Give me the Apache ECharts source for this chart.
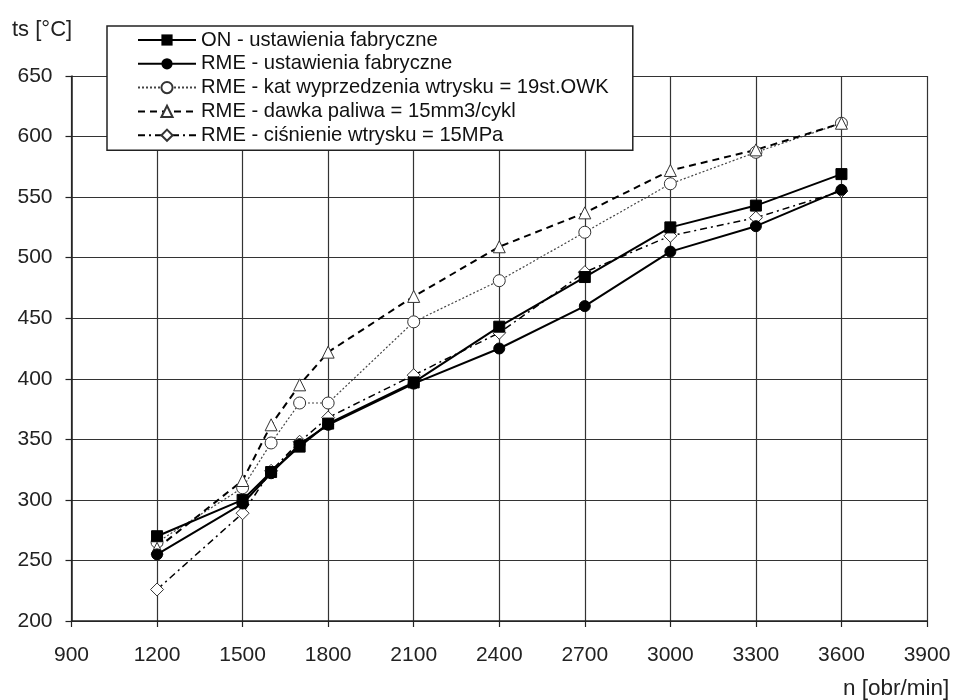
<!DOCTYPE html>
<html>
<head>
<meta charset="utf-8">
<script src="https://cdn.jsdelivr.net/npm/echarts@6/dist/echarts.min.js"></script>
<style>
html,body{margin:0;padding:0;background:#fff;}
#chart{width:954px;height:700px;}
</style>
</head>
<body>
<div id="chart"></div>
<script>
const rpm = [1200, 1500, 1600, 1700, 1800, 2100, 2400, 2700, 3000, 3300, 3600];
const onFactory = [270, 300, 323, 344, 363, 397, 443, 484, 525, 543, 569];
const rmeFactory = [255, 297, 322, 346, 362, 396, 425, 460, 505, 526, 556];
const rmeTiming = [265, 310, 347, 380, 380, 447, 481, 521, 561, 587, 611];
const rmeDose = [260, 316, 362, 395, 422, 468, 509, 537, 572, 589, 611];
const rmePressure = [226, 289, 324, 348, 368, 403, 438, 488, 518, 533, 555];
const seriesNames = [
  'ON - ustawienia fabryczne',
  'RME - ustawienia fabryczne',
  'RME - kat wyprzedzenia wtrysku = 19st.OWK',
  'RME - dawka paliwa = 15mm3/cykl',
  'RME - ciśnienie wtrysku = 15MPa'
];
const yTitle = 'ts [°C]';
const xTitle = 'n [obr/min]';

const pair = arr => rpm.map((x, i) => [x, arr[i]]);
const FONT = 'Liberation Sans, Arial, sans-serif';

const chart = echarts.init(document.getElementById('chart'), null, {renderer: 'canvas'});
chart.setOption({
  animation: false,
  backgroundColor: '#fff',
  grid: {left: 71.5, right: 27, top: 76, bottom: 79, containLabel: false},
  xAxis: {
    type: 'value', min: 900, max: 3900, interval: 300,
    axisLine: {show: true, onZero: false, lineStyle: {color: '#222', width: 1.5}},
    axisTick: {show: true, inside: false, length: 6, lineStyle: {color: '#222', width: 1.2}},
    axisLabel: {color: '#222', fontSize: 21, fontFamily: FONT, margin: 24, formatter: v => String(v)},
    splitLine: {show: true, lineStyle: {color: '#333', width: 1.2}}
  },
  yAxis: {
    type: 'value', min: 200, max: 650, interval: 50,
    axisLine: {show: true, lineStyle: {color: '#222', width: 1.5}},
    axisTick: {show: true, inside: false, length: 6, lineStyle: {color: '#222', width: 1.2}},
    axisLabel: {color: '#222', fontSize: 21, fontFamily: FONT, margin: 19},
    splitLine: {show: true, lineStyle: {color: '#333', width: 1.2}}
  },
  legend: {
    orient: 'vertical', left: 107, top: 26,
    backgroundColor: '#fff', borderColor: '#222', borderWidth: 1.5,
    padding: [4, 24, 5, 30],
    itemWidth: 58, itemHeight: 14, itemGap: 3.8,
    textStyle: {color: '#111', fontSize: 20.2, fontFamily: FONT, lineHeight: 20},
    data: seriesNames
  },
  graphic: [
    {type: 'text', left: 12, top: 19, style: {text: yTitle, fontSize: 22, fontFamily: FONT, fill: '#222'}},
    {type: 'text', left: 843, top: 677, style: {text: xTitle, fontSize: 22.5, fontFamily: FONT, fill: '#222'}}
  ],
  series: [
    {name: seriesNames[0], type: 'line', data: pair(onFactory), z: 5,
     symbol: 'rect', symbolSize: 11,
     lineStyle: {color: '#000', width: 2, type: 'solid'},
     itemStyle: {color: '#000', borderColor: '#000'}},
    {name: seriesNames[1], type: 'line', data: pair(rmeFactory), z: 4,
     symbol: 'circle', symbolSize: 11,
     lineStyle: {color: '#000', width: 2, type: 'solid'},
     itemStyle: {color: '#000', borderColor: '#000'}},
    {name: seriesNames[2], type: 'line', data: pair(rmeTiming), z: 3,
     symbol: 'circle', symbolSize: 12,
     lineStyle: {color: '#444', width: 1.2, type: [2, 2]},
     itemStyle: {color: '#fff', borderColor: '#333', borderWidth: 1}},
    {name: seriesNames[3], type: 'line', data: pair(rmeDose), z: 3,
     symbol: 'triangle', symbolSize: 12,
     lineStyle: {color: '#000', width: 2, type: [7, 5]},
     itemStyle: {color: '#fff', borderColor: '#333', borderWidth: 1}},
    {name: seriesNames[4], type: 'line', data: pair(rmePressure), z: 3,
     symbol: 'diamond', symbolSize: 13,
     lineStyle: {color: '#000', width: 1.5, type: [7, 4, 2, 4]},
     itemStyle: {color: '#fff', borderColor: '#333', borderWidth: 1}}
  ]
});
</script>
</body>
</html>
